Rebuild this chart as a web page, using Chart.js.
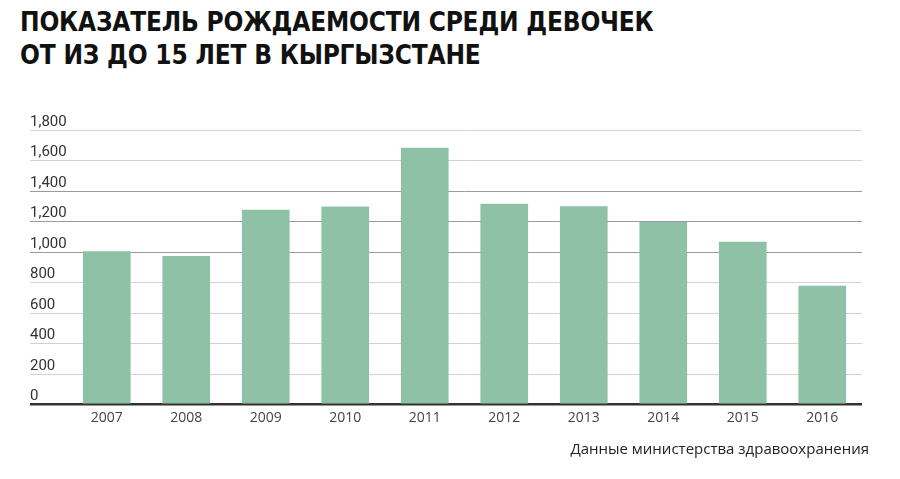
<!DOCTYPE html>
<html>
<head>
<meta charset="utf-8">
<script src="https://cdn.jsdelivr.net/npm/chart.js@4.4.0/dist/chart.umd.min.js"></script>
<style>
  body { margin: 0; background: #fff; width: 900px; height: 479px; overflow: hidden; position: relative; }
  .titulo {
    position: absolute; left: 20px; top: 6px;
    font-family: "DejaVu Sans Condensed", "DejaVu Sans", sans-serif;
    font-weight: bold; font-size: 26px; line-height: 33px; color: #111;
    letter-spacing: -0.2px;
  }
  .fuente {
    position: absolute; right: 31px; top: 438px;
    font-family: "Open Sans", sans-serif; font-size: 15px; color: #222;
  }
  #wrap { position: absolute; left: 0; top: 100px; width: 900px; height: 340px; }
</style>
</head>
<body>
<div class="titulo">ПОКАЗАТЕЛЬ РОЖДАЕМОСТИ СРЕДИ ДЕВОЧЕК<br>ОТ ИЗ ДО 15 ЛЕТ В КЫРГЫЗСТАНЕ</div>
<div id="wrap"><canvas id="grafico"></canvas></div>
<div class="fuente">Данные министерства здравоохранения</div>
<script>
// datos
const anios = ['2007', '2008', '2009', '2010', '2011', '2012', '2013', '2014', '2015', '2016'];
const nacimientos = [1005, 975, 1278, 1298, 1683, 1316, 1300, 1197, 1068, 779];
const ticksY = [0, 200, 400, 600, 800, 1000, 1200, 1400, 1600, 1800];

const VERDE = '#8ec1a6';

new Chart(document.getElementById('grafico').getContext('2d'), {
    type: 'bar',
    data: {
        labels: anios,
        datasets: [{
            data: nacimientos,
            backgroundColor: VERDE,
            barPercentage: 0.6,
            categoryPercentage: 1
        }]
    },
    options: {
        responsive: true,
        maintainAspectRatio: false,
        animation: false,
        layout: { padding: { left: 30, right: 38, top: 30, bottom: 8.5 } },
        plugins: { legend: { display: false }, tooltip: { enabled: false } },
        scales: {
            x: {
                grid: { display: false, drawTicks: false },
                border: { display: false },
                ticks: { color: '#444', font: { family: 'Open Sans', size: 14 }, padding: 5 }
            },
            y: {
                min: 0,
                max: 1800,
                afterBuildTicks: (s) => { s.ticks = ticksY.map(v => ({ value: v })); },
                afterFit: (s) => { s.width = 37; },
                border: { display: false },
                grid: {
                    tickLength: 37,
                    color: (c) => {
                        const v = c.tick ? c.tick.value : null;
                        if (v === 0) return '#333';
                        if (v >= 1000 && v <= 1400) return '#9a9a9a';
                        return '#d2d2d2';
                    },
                    lineWidth: (c) => (c.tick && c.tick.value === 0 ? 2.5 : 1)
                },
                ticks: {
                    crossAlign: 'far',
                    labelOffset: -8,
                    color: '#333',
                    font: { family: 'Roboto', size: 15 },
                    callback: (v) => v.toLocaleString('en-US')
                }
            }
        }
    }
});
</script>
</body>
</html>
